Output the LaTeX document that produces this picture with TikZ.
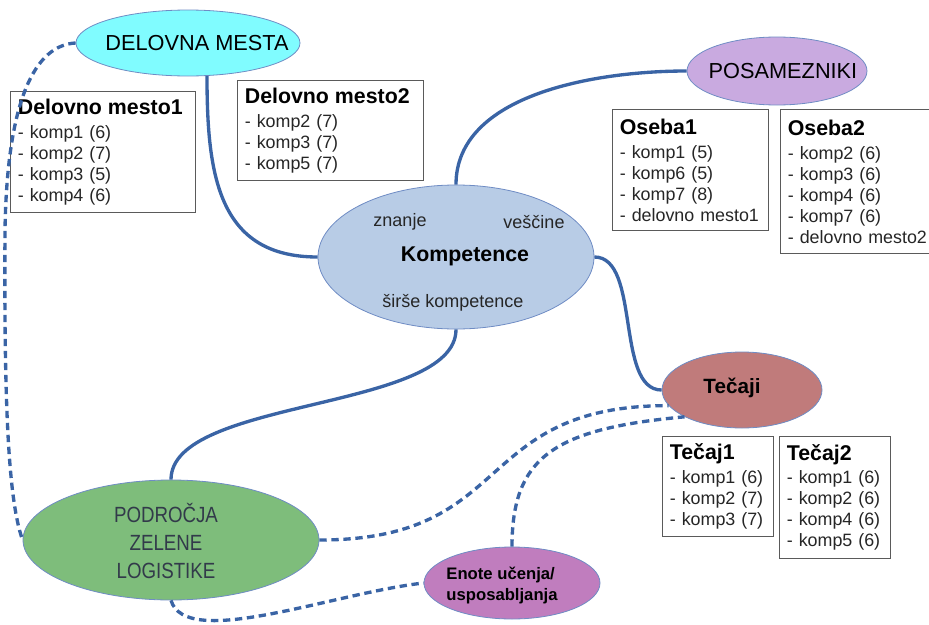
\documentclass[tikz,border=0pt]{standalone}
\usepackage{fontspec}
\setmainfont{Liberation Sans}
\newfontfamily\narrowfont{Liberation Sans}[FakeStretch=0.85]
\usetikzlibrary{shapes.geometric}

\definecolor{linkblue}{HTML}{3A64A5}
\definecolor{ellborder}{HTML}{6F8CC4}
\definecolor{dmcyan}{HTML}{80FCFF}
\definecolor{poslila}{HTML}{C9AAE0}
\definecolor{kompblue}{HTML}{B8CCE6}
\definecolor{tecrose}{HTML}{C07B7B}
\definecolor{zlgreen}{HTML}{7EBD7B}
\definecolor{enviolet}{HTML}{C07DBE}
\definecolor{boxgray}{HTML}{5A5A5A}
\definecolor{greentext}{HTML}{323A4A}

\tikzset{
  bubble/.style={ellipse, draw=ellborder, line width=0.6pt, inner sep=0pt},
  bubtext/.style={inner sep=0pt, font=\fontsize{16.3}{19}\selectfont},
  subtext/.style={inner sep=0pt, text=black!85, font=\fontsize{13.5}{16}\selectfont},
  listbox/.style={draw=boxgray, line width=0.8pt, fill=white, anchor=north west,
    align=left, inner xsep=5.5pt, inner ysep=0pt, text=black!85,
    font=\fontsize{13.4}{15.75}\selectfont},
  link/.style={draw=linkblue, line width=2.5pt},
  dlink/.style={draw=linkblue, line width=2.5pt, dash pattern=on 5.5pt off 3.5pt},
}
\newcommand{\boxtitle}[1]{{\fontsize{16}{19}\selectfont\bfseries\color{black}#1}}

\begin{document}
\begin{tikzpicture}[x=0.75pt,y=-0.75pt]
	\useasboundingbox (0,0) rectangle (929,625);
	
	% ellipses
	\node[bubble, fill=dmcyan, minimum width=168pt, minimum height=49.5pt] (dm) at (188,43) {};
	\node[bubtext] (dmlabel) at (197,43) {DELOVNA MESTA};
	\node[bubble, fill=poslila, minimum width=135pt, minimum height=51pt] (pos) at (777,71) {};
	\node[bubtext] (poslabel) at (783,71) {POSAMEZNIKI};
	\node[bubble, fill=kompblue, minimum width=207pt, minimum height=108pt] (komp) at (456,257) {};
	\node[bubtext, font=\fontsize{16}{19}\selectfont\bfseries] (komplabel) at (465,256) {Kompetence};
	\node[subtext] (znanje) at (400,222) {znanje};
	\node[subtext] (vescine) at (534,222) {veščine};
	\node[subtext] (sirse) at (453,303) {širše kompetence};
	\node[bubble, fill=tecrose, minimum width=120pt, minimum height=57pt] (tec) at (742,390) {};
	\node[bubtext, font=\fontsize{15.5}{19}\selectfont\bfseries] (teclabel) at (732,388) {Tečaji};
	\node[bubble, fill=zlgreen, minimum width=222pt, minimum height=90pt] (zl) at (171,540) {};
	\node[inner sep=0pt, align=center, text=greentext, font=\narrowfont\fontsize{16.5}{21}\selectfont] (zllabel) at (166,541) {PODROČJA\\ZELENE\\LOGISTIKE};
	\node[bubble, fill=enviolet, minimum width=132pt, minimum height=54pt] (en) at (512,583) {};
	\node[inner sep=0pt, align=left, font=\fontsize{12.5}{15.75}\selectfont\bfseries] (enlabel) at (502,586) {Enote učenja/\\usposabljanja};
	
	% boxes
	\node[listbox, text width=127.75pt, minimum height=90.75pt] (dm1) at (10,91) {\boxtitle{Delovno mesto1}\\[2pt] - komp1 (6)\\ - komp2 (7)\\ - komp3 (5)\\ - komp4 (6)};
	\node[listbox, text width=128.5pt, minimum height=75pt] (dm2) at (237,80) {\boxtitle{Delovno mesto2}\\[2pt] - komp2 (7)\\ - komp3 (7)\\ - komp5 (7)};
	\node[listbox, text width=106pt, minimum height=90.75pt] (os1) at (612,109) {\boxtitle{Oseba1}\\[2pt] - komp1 (5)\\ - komp6 (5)\\ - komp7 (8)\\ - delovno mesto1};
	\node[listbox, text width=110pt, minimum height=108pt] (os2) at (780,109) {\boxtitle{Oseba2}\\[2pt] - komp2 (6)\\ - komp3 (6)\\ - komp4 (6)\\ - komp7 (6)\\ - delovno mesto2};
	\node[listbox, text width=72.25pt, minimum height=75pt] (t1) at (662,436) {\boxtitle{Tečaj1}\\[2pt] - komp1 (6)\\ - komp2 (7)\\ - komp3 (7)};
	\node[listbox, text width=72.25pt, minimum height=91.5pt] (t2) at (779,436) {\boxtitle{Tečaj2}\\[2pt] - komp1 (6)\\ - komp2 (6)\\ - komp4 (6)\\ - komp5 (6)};
	
	% solid links
	\draw[link] (dm.-60) to[out=-90,in=180,looseness=1.2] (komp.west);
	\draw[link] (komp.north) to[out=90,in=180,looseness=0.9] (pos.west);
	\draw[link] (komp.east) to[out=0,in=180,looseness=0.8] (tec.west);
	\draw[link] (komp.south) to[out=-90,in=90,looseness=0.65] (zl.north);
	
	% dashed links
	\coordinate (dmbend) at (5,230);
	\draw[dlink] (dm.west) .. controls (35,45) and (7,100) .. (dmbend) .. controls (4,400) and (8,500) .. (zl.west);
	\draw[dlink] (zl.east) to[out=0,in=180,looseness=1.35] (tec.192);
	\draw[dlink] (en.north) .. controls +(0,-90) and +(-130,12) .. (tec.205);
	\draw[dlink] (zl.south) .. controls +(15,50) and +(-90,10) .. (en.west);
	
\end{tikzpicture}
\end{document}
